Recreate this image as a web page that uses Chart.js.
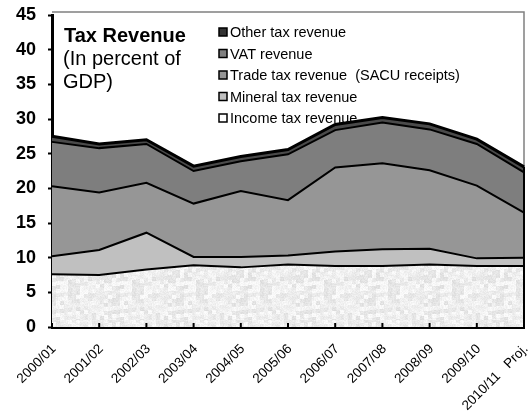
<!DOCTYPE html>
<html>
<head>
<meta charset="utf-8">
<script src="https://cdn.jsdelivr.net/npm/chart.js@4.4.0/dist/chart.umd.min.js"></script>
<style>
  html, body { margin: 0; padding: 0; background: #fff; overflow: hidden; }
  #wrap { position: relative; width: 532px; height: 418px; }
</style>
</head>
<body>
<div id="wrap"><canvas id="c" width="532" height="418"></canvas></div>
<script>
// Fiscal years on the horizontal axis
const categories = ['2000/01', '2001/02', '2002/03', '2003/04', '2004/05', '2005/06',
                    '2006/07', '2007/08', '2008/09', '2009/10', '2010/11   Proj.'];

// Tax revenue components, in percent of GDP (stacked bottom to top)
const incomeTax  = [7.6, 7.5, 8.3, 8.9, 8.6, 9.0, 8.8, 8.8, 9.0, 8.8, 8.8];
const mineralTax = [2.6, 3.6, 5.3, 1.2, 1.5, 1.3, 2.1, 2.4, 2.3, 1.1, 1.2];
const tradeTax   = [10.1, 8.3, 7.2, 7.7, 9.5, 8.0, 12.1, 12.4, 11.3, 10.5, 6.5];
const vatRevenue = [6.4, 6.4, 5.6, 4.7, 4.3, 6.6, 5.4, 5.9, 5.9, 6.0, 5.8];
const otherTax   = [0.8, 0.6, 0.6, 0.7, 0.7, 0.7, 0.8, 0.7, 0.8, 0.7, 0.8];

// Value axis ticks
const yTicks = { min: 0, max: 45, step: 5 };

// Title lines drawn inside the plot
const titleBold = 'Tax Revenue';
const titleLines = ['(In percent of', 'GDP)'];

const FONT = '"Liberation Sans", Arial, sans-serif';
const canvas = document.getElementById('c');
const ctx = canvas.getContext('2d');

// Light mottled fill for the income tax band
function mottledFill() {
  const n = 64;
  const c = document.createElement('canvas');
  c.width = n; c.height = n;
  const g = c.getContext('2d');
  const img = g.createImageData(n, n);
  const h = (x, y, k) => {
    let v = (x * 374761393 + y * 668265263 + k * 2147483647) | 0;
    v = (v ^ (v >>> 13)) * 1274126177 | 0;
    return ((v ^ (v >>> 16)) >>> 0) % 1000 / 1000;
  };
  for (let y = 0; y < n; y++) {
    for (let x = 0; x < n; x++) {
      const coarse = h(x >> 2, (y + (x >> 3)) >> 2, 7);
      const fine = h(x, y, 3);
      let v = 238 + (coarse - 0.5) * 26 + (fine - 0.5) * 14;
      v = Math.max(200, Math.min(252, v));
      const i = (y * n + x) * 4;
      img.data[i] = img.data[i + 1] = img.data[i + 2] = v;
      img.data[i + 3] = 255;
    }
  }
  g.putImageData(img, 0, 0);
  return ctx.createPattern(c, 'repeat');
}
const incomeFill = mottledFill();

const series = [
  { label: 'Income tax revenue', data: incomeTax, bg: incomeFill, swatch: '#ffffff', fill: 'origin', bw: 2 },
  { label: 'Mineral tax revenue', data: mineralTax, bg: '#c0c0c0', swatch: '#c0c0c0', fill: '-1', bw: 2 },
  { label: 'Trade tax revenue  (SACU receipts)', data: tradeTax, bg: '#969696', swatch: '#969696', fill: '-1', bw: 2 },
  { label: 'VAT revenue', data: vatRevenue, bg: '#7e7e7e', swatch: '#808080', fill: '-1', bw: 2 },
  { label: 'Other tax revenue', data: otherTax, bg: '#4a4a4a', swatch: '#333333', fill: '-1', bw: 3 }
];

// Title and legend are drawn underneath the areas
const backdrop = {
  id: 'backdrop',
  beforeDatasetsDraw(chart) {
    const c = chart.ctx;
    const a = chart.chartArea;
    c.save();
    // back wall outline (top and right)
    c.strokeStyle = '#808080';
    c.lineWidth = 1.5;
    c.beginPath();
    c.moveTo(a.left, a.top - 3);
    c.lineTo(a.right, a.top - 3);
    c.lineTo(a.right, a.bottom);
    c.stroke();

    // title
    c.fillStyle = '#000';
    c.textBaseline = 'alphabetic';
    c.textAlign = 'left';
    c.font = 'bold 20px ' + FONT;
    c.fillText(titleBold, 64, 41.5);
    c.font = '20px ' + FONT;
    titleLines.forEach((t, i) => c.fillText(t, 63, 64.5 + i * 23.5));

    // legend, top entry first
    const ds = chart.data.datasets.slice().reverse();
    c.font = '14.5px ' + FONT;
    ds.forEach((d, i) => {
      const cy = 32 + i * 21.5;
      c.fillStyle = d.swatchColor;
      c.fillRect(219, cy - 4, 8, 8);
      c.strokeStyle = '#000';
      c.lineWidth = 1.5;
      c.strokeRect(219, cy - 4, 8, 8);
      c.fillStyle = '#000';
      c.textBaseline = 'middle';
      c.fillText(d.label, 230, cy + 1);
    });
    c.restore();
  },
  afterDatasetsDraw(chart) {
    const c = chart.ctx;
    const a = chart.chartArea;
    const xs = chart.scales.x;
    c.save();
    // right edge of the stacked areas
    const topMeta = chart.getDatasetMeta(chart.data.datasets.length - 1);
    const last = topMeta.data[topMeta.data.length - 1];
    c.strokeStyle = '#000';
    c.lineWidth = 2;
    c.beginPath();
    c.moveTo(a.right, last.y);
    c.lineTo(a.right, a.bottom);
    c.stroke();
    // category tick marks pointing into the plot
    c.lineWidth = 2;
    categories.forEach((_, i) => {
      const x = xs.getPixelForValue(i);
      c.beginPath();
      c.moveTo(x, a.bottom - 4);
      c.lineTo(x, a.bottom);
      c.stroke();
    });
    c.restore();
  }
};

new Chart(ctx, {
  type: 'line',
  data: {
    labels: categories,
    datasets: series.map(s => ({
      label: s.label,
      data: s.data,
      backgroundColor: s.bg,
      swatchColor: s.swatch,
      borderColor: '#000',
      borderWidth: s.bw,
      fill: s.fill,
      pointRadius: 0,
      tension: 0
    }))
  },
  options: {
    responsive: false,
    animation: false,
    layout: { padding: { top: 15, right: 8, left: 0, bottom: 0 } },
    plugins: {
      legend: { display: false },
      tooltip: { enabled: false },
      title: { display: false }
    },
    scales: {
      x: {
        offset: false,
        grid: { display: false },
        border: { color: '#000', width: 3 },
        ticks: {
          color: '#000',
          font: { family: FONT, size: 13.5 },
          minRotation: 45,
          maxRotation: 45,
          autoSkip: false,
          padding: 6,
          labelOffset: 2
        },
        afterFit(s) { s.height = 91; s.paddingLeft = 0; s.paddingRight = 0; }
      },
      y: {
        stacked: true,
        min: yTicks.min,
        max: yTicks.max,
        grid: { drawOnChartArea: false, tickLength: 4, color: '#000', tickWidth: 2 },
        border: { color: '#000', width: 3 },
        ticks: {
          stepSize: yTicks.step,
          color: '#000',
          font: { family: FONT, size: 18, weight: 'bold' },
          padding: 12
        },
        afterFit(s) { s.width = 52; s.paddingTop = 0; s.paddingBottom = 0; }
      }
    }
  },
  plugins: [backdrop]
});
</script>
</body>
</html>
